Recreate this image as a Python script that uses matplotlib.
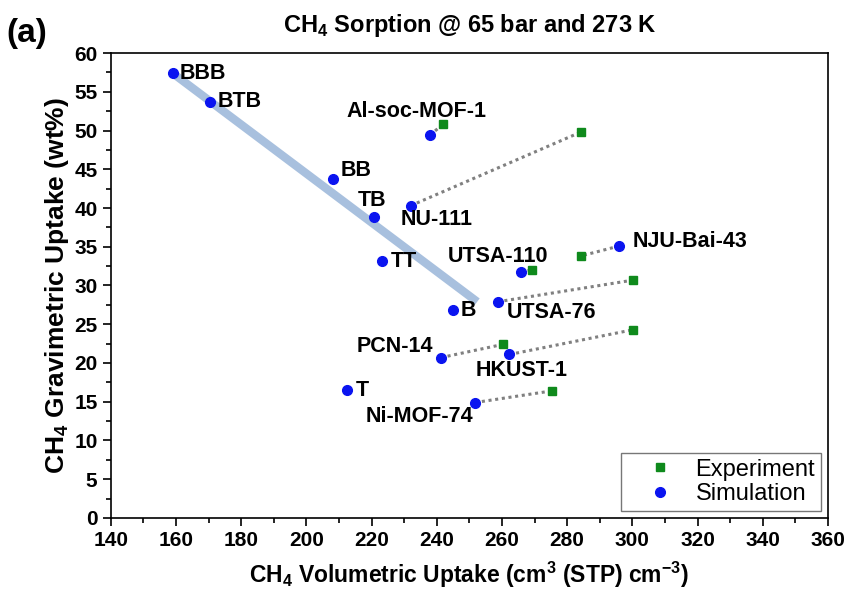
import numpy as np
import matplotlib.pyplot as plt
from matplotlib.ticker import MultipleLocator

plt.rcParams['font.family'] = ['Liberation Sans', 'DejaVu Sans']
plt.rcParams['mathtext.fontset'] = 'custom'
plt.rcParams['mathtext.rm'] = 'Liberation Sans:bold'
plt.rcParams['mathtext.bf'] = 'Liberation Sans:bold'

# ligand series (simulation only)
lig_names = ['BBB', 'BTB', 'BB', 'TB', 'TT', 'B', 'T']
lig_vol = [159.0, 170.5, 208.3, 220.6, 223.3, 245.1, 212.6]
lig_grav = [57.4, 53.7, 43.8, 38.8, 33.1, 26.8, 16.5]

# known MOFs: simulation and experiment
mof_names = ['Al-soc-MOF-1', 'NU-111', 'UTSA-110', 'NJU-Bai-43', 'UTSA-76',
             'PCN-14', 'HKUST-1', 'Ni-MOF-74']
sim_vol = [237.9, 232.0, 265.8, 296.0, 258.7, 241.3, 262.3, 251.8]
sim_grav = [49.4, 40.3, 31.8, 35.1, 27.9, 20.7, 21.1, 14.9]
exp_vol = [241.9, 284.2, 269.3, 284.1, 300.3, 260.3, 300.3, 275.3]
exp_grav = [50.8, 49.8, 32.0, 33.8, 30.7, 22.4, 24.3, 16.4]

# trend line
trend_vol = [159.0, 252.4]
trend_grav = [57.4, 27.9]

fig = plt.figure(figsize=(8.53, 5.93), dpi=100)
ax = fig.add_axes([0.1298, 0.1265, 0.8409, 0.7841])

ax.plot(trend_vol, trend_grav, color='#a8c0de', lw=6, solid_capstyle='butt', zorder=1)

for i in range(len(mof_names)):
    ax.plot([sim_vol[i], exp_vol[i]], [sim_grav[i], exp_grav[i]], color='#808080',
            lw=2.2, ls=(0, (1, 1.2)), zorder=2)

ax.plot(exp_vol, exp_grav, 's', color='#0f8a1c', ms=5.8, ls='none', label='Experiment', zorder=3)
ax.plot(lig_vol + sim_vol, lig_grav + sim_grav, 'o', color='#0a14f0', ms=7, ls='none',
        label='Simulation', zorder=4)

# label offsets in pixels (dx, dy, ha)
lig_off = [(7, 0, 'left'), (7, 0, 'left'), (7, 8, 'left'), (-1, 17, 'center'),
           (8, 0, 'left'), (7, 0, 'left'), (8, 0, 'left')]
mof_off = [(-13, 24, 'center'), (-10, -14, 'left'), (-23, 15, 'center'), (13, 4, 'left'),
           (9, -11, 'left'), (-8, 11, 'right'), (12, -16, 'center'), (-2, -14, 'right')]

for n, x, y, o in zip(lig_names, lig_vol, lig_grav, lig_off):
    ax.annotate(n, (x, y), xytext=(o[0], o[1]), textcoords='offset pixels',
                ha=o[2], va='center', fontsize=15.5, fontweight='bold', zorder=5)
for n, x, y, o in zip(mof_names, sim_vol, sim_grav, mof_off):
    ax.annotate(n, (x, y), xytext=(o[0], o[1]), textcoords='offset pixels',
                ha=o[2], va='center', fontsize=15.5, fontweight='bold', zorder=5)

ax.set_xlim(140, 360)
ax.set_ylim(0, 60)
ax.xaxis.set_major_locator(MultipleLocator(20))
ax.xaxis.set_minor_locator(MultipleLocator(10))
ax.yaxis.set_major_locator(MultipleLocator(5))
ax.yaxis.set_minor_locator(MultipleLocator(2.5))
ax.tick_params(which='both', direction='out', top=False, right=False, width=1.2)
ax.tick_params(which='major', length=6, labelsize=15)
ax.tick_params(which='minor', length=3.5)
for lab in ax.get_xticklabels() + ax.get_yticklabels():
    lab.set_fontweight('bold')
for s in ax.spines.values():
    s.set_linewidth(1.2)

ax.set_xlabel('CH$_4$ Volumetric Uptake (cm$^3$ (STP) cm$^{-3}$)', fontsize=16.5,
              fontweight='bold', labelpad=7)
ax.set_ylabel('CH$_4$ Gravimetric Uptake (wt%)', fontsize=19, fontweight='bold', labelpad=2)
ax.set_title('CH$_4$ Sorption @ 65 bar and 273 K', fontsize=17, fontweight='bold', pad=15)
fig.text(0.008, 0.93, '(a)', fontsize=24, fontweight='bold')

leg = ax.legend(loc='lower right', fontsize=17, frameon=True, fancybox=False,
                handletextpad=0.1, borderpad=0.25, labelspacing=0.1, handlelength=2.8,
                borderaxespad=0.3)
leg.get_frame().set_edgecolor('#555555')
leg.get_frame().set_linewidth(1.0)

fig.savefig('out.png', dpi=100)
